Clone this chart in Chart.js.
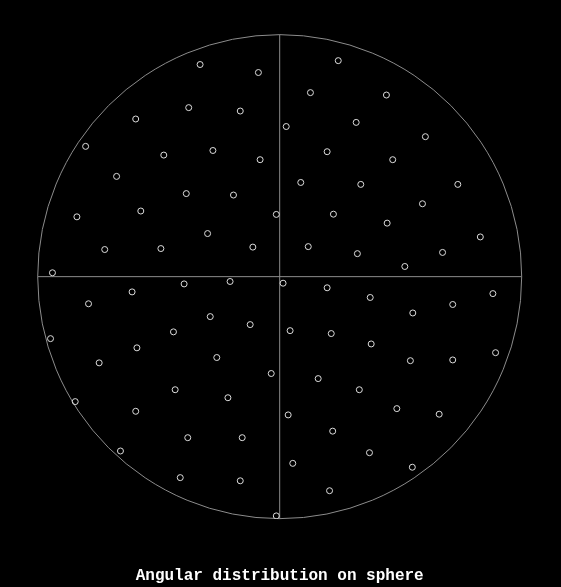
<!DOCTYPE html>
<html>
<head>
<meta charset="utf-8">
<style>
  html, body { margin: 0; padding: 0; background: #000; }
  #wrap { width: 561px; height: 587px; }
</style>
<script src="https://cdn.jsdelivr.net/npm/chart.js@4/dist/chart.umd.min.js"></script>
</head>
<body>
<div id="wrap"><canvas id="c" width="561" height="587"></canvas></div>
<script>
const titleText = "Angular distribution on sphere";
const xTicks = [-1, 0, 1];
const yTicks = [-1, 0, 1];

const xs = [
  -0.329,-0.088,-0.376,-0.163,-0.595,-0.802,-0.479,-0.276,-0.081,-0.674,
  -0.386,-0.191,-0.014,-0.838,-0.574,-0.298,-0.723,-0.491,-0.111,-0.939,
  0.242,0.127,0.441,0.027,0.316,0.602,0.196,0.467,0.087,0.335,
  0.736,0.590,0.222,0.444,0.829,0.118,0.321,0.673,0.517,
  -0.395,-0.205,-0.610,-0.790,-0.287,-0.122,-0.439,-0.947,-0.590,-0.260,
  -0.746,-0.035,-0.432,-0.214,-0.845,-0.595,-0.380,-0.155,-0.658,-0.411,
  -0.163,-0.014,
  0.014,0.196,0.374,0.550,0.715,0.881,0.043,0.213,0.378,0.540,
  0.715,0.892,0.159,0.329,0.484,0.659,0.035,0.219,0.371,0.548,
  0.054,0.206
];
const ys = [
  0.876,0.843,0.698,0.684,0.651,0.538,0.502,0.521,0.483,0.414,
  0.343,0.337,0.257,0.247,0.271,0.178,0.112,0.116,0.122,0.016,
  0.892,0.760,0.750,0.620,0.637,0.578,0.516,0.483,0.389,0.381,
  0.381,0.301,0.258,0.221,0.164,0.124,0.095,0.100,0.042,
  -0.030,-0.020,-0.063,-0.112,-0.165,-0.198,-0.228,-0.256,-0.294,-0.334,
  -0.356,-0.400,-0.467,-0.500,-0.516,-0.556,-0.665,-0.665,-0.720,-0.830,
  -0.843,-0.988,
  -0.027,-0.046,-0.086,-0.150,-0.115,-0.070,-0.223,-0.235,-0.278,-0.347,
  -0.344,-0.314,-0.421,-0.467,-0.545,-0.568,-0.571,-0.638,-0.727,-0.787,
  -0.771,-0.884
];

const points = xs.map((x, i) => ({ x: x, y: ys[i] }));

const sphereFrame = {
  id: 'sphereFrame',
  beforeDatasetsDraw(chart) {
    const { ctx, scales } = chart;
    const sx = scales.x, sy = scales.y;
    const cx = sx.getPixelForValue(0), cy = sy.getPixelForValue(0);
    const r = sx.getPixelForValue(1) - cx;
    ctx.save();
    ctx.strokeStyle = '#8c8c8c';
    ctx.lineWidth = 1;
    ctx.beginPath();
    ctx.arc(cx, cy, r, 0, Math.PI * 2);
    ctx.stroke();
    ctx.beginPath();
    ctx.moveTo(sx.getPixelForValue(-1), cy);
    ctx.lineTo(sx.getPixelForValue(1), cy);
    ctx.moveTo(cx, sy.getPixelForValue(1));
    ctx.lineTo(cx, sy.getPixelForValue(-1));
    ctx.stroke();
    ctx.restore();
  }
};

new Chart(document.getElementById('c'), {
  type: 'scatter',
  data: {
    datasets: [{
      data: points,
      pointStyle: 'circle',
      pointRadius: 3,
      pointBorderWidth: 1,
      pointBorderColor: '#dcdcdc',
      pointBackgroundColor: 'rgba(0,0,0,0)',
      showLine: false
    }]
  },
  options: {
    responsive: false,
    animation: false,
    layout: { padding: { left: 37.7, right: 39.3, top: 34.5, bottom: 1.4 } },
    scales: {
      x: { type: 'linear', min: xTicks[0], max: xTicks[2], display: false },
      y: { type: 'linear', min: yTicks[0], max: yTicks[2], display: false }
    },
    plugins: {
      legend: { display: false },
      tooltip: { enabled: false },
      title: {
        display: true,
        position: 'bottom',
        text: titleText,
        color: '#ffffff',
        font: { family: "'Liberation Mono', 'DejaVu Sans Mono', monospace", size: 16, weight: 'bold', lineHeight: 1.2 },
        padding: { top: 47.6, bottom: 0 }
      }
    }
  },
  plugins: [sphereFrame]
});
</script>
</body>
</html>
